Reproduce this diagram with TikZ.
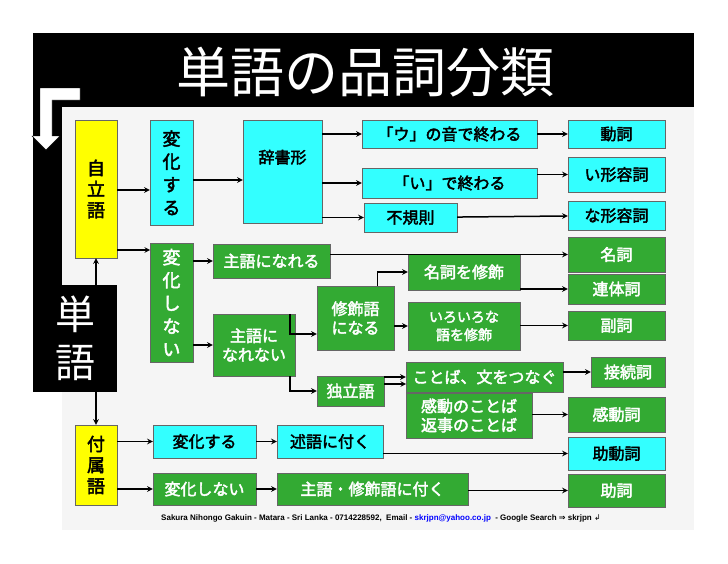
\documentclass[tikz,border=0pt]{standalone}
\usepackage{fontspec}
\setmainfont{Liberation Sans}
\newfontfamily\jp{Noto Sans CJK JP}[FakeBold=2.5]
\newfontfamily\jplight{Noto Sans CJK JP}
\newfontfamily\sym{DejaVu Sans}
\definecolor{cyanbox}{HTML}{33FFFF}
\definecolor{greenbox}{HTML}{33AA33}
\definecolor{yellowbox}{HTML}{FFFF00}
\definecolor{slide}{HTML}{F5F5F5}
\begin{document}
\begin{tikzpicture}[x=1pt, y=-1pt, >=stealth]
    \tikzstyle{cy}=[draw=black!60, fill=cyanbox, inner sep=0pt, align=center, font=\jp\fontsize{16}{19}\selectfont]
    \tikzstyle{gr}=[draw=black!60, fill=greenbox, text=white, inner sep=0pt, align=center, font=\jp\fontsize{16}{19}\selectfont]
    \tikzstyle{ye}=[draw=black!60, fill=yellowbox, inner sep=0pt, align=center, font=\jp\fontsize{18}{21}\selectfont]
    \tikzstyle{vert}=[font=\jp\fontsize{18}{23}\selectfont]
    \tikzstyle{arr}=[->, line width=1.5pt]

    \useasboundingbox (0,0) rectangle (728,563);
    \fill[white] (0,0) rectangle (728,563);
    \fill[slide] (62,107) rectangle (694,530);
    \fill[black] (33,33) rectangle (694,107);
    \fill[black] (33,107) rectangle (62,285);
    \filldraw[fill=white, draw=black] (40,88) -- (80,88) -- (80,100) -- (52,100) -- (52,136) -- (60,136) -- (46,150) -- (32,136) -- (40,136) -- cycle;
    \node[text=white, font=\jplight\fontsize{54}{58}\selectfont] (title) at (365,72) {単語の品詞分類};

    % 自立語
    \node[ye, minimum width=42pt, minimum height=138pt] (jiritsu) at (96,189) {自\\立\\語};
    \node[cy, vert, minimum width=43pt, minimum height=105pt, anchor=north] (henka1) at (171.5,120) {変\\化\\す\\る};
    \node[cy, minimum width=79pt, minimum height=103pt, text depth=30pt] (jisho) at (282.5,171.5) {辞書形};
    \node[cy, minimum width=175pt, minimum height=28pt] (u) at (449.5,134) {「ウ」の音で終わる};
    \node[cy, minimum width=175pt, minimum height=30pt] (i) at (449.5,183) {「い」で終わる};
    \node[cy, minimum width=93pt, minimum height=29pt] (fuki) at (410.5,217.5) {不規則};
    \node[cy, minimum width=97pt, minimum height=28pt] (doushi) at (616.5,134) {動詞};
    \node[cy, minimum width=97pt, minimum height=35pt] (ikei) at (616.5,174.5) {い形容詞};
    \node[cy, minimum width=97pt, minimum height=29pt] (nakei) at (616.5,215.5) {な形容詞};
    \node[gr, minimum width=97pt, minimum height=35pt] (meishi) at (616.5,254.5) {名詞};
    \node[gr, minimum width=97pt, minimum height=30pt] (rentai) at (616.5,289) {連体詞};
    \node[gr, minimum width=97pt, minimum height=29pt] (fuku) at (616.5,325.5) {副詞};
    \node[gr, minimum width=74pt, minimum height=30pt] (setsu) at (628,372) {接続詞};
    \node[gr, minimum width=97pt, minimum height=35pt] (kandou) at (616.5,414.5) {感動詞};
    \node[cy, minimum width=97pt, minimum height=33pt] (jodou) at (616.5,453.5) {助動詞};
    \node[gr, minimum width=97pt, minimum height=33pt] (joshi) at (616.5,490.5) {助詞};

    \node[gr, vert, minimum width=43pt, minimum height=119pt] (henka2) at (171.5,302.5) {変\\化\\し\\な\\い};
    \node[gr, minimum width=117pt, minimum height=34pt] (shugoN) at (271.5,261) {主語になれる};
    \node[gr, minimum width=112pt, minimum height=36pt] (meishuu) at (464,272) {名詞を修飾};
    \node[gr, minimum width=77pt, minimum height=64pt] (shuushoku) at (355.5,318) {修飾語\\になる};
    \node[gr, minimum width=82pt, minimum height=62pt] (shugoNN) at (254,345) {主語に\\なれない};
    \node[gr, minimum width=112pt, minimum height=48pt, font=\jp\fontsize{14}{18}\selectfont] (iroiro) at (464,326) {いろいろな\\語を修飾};
    \node[gr, minimum width=157pt, minimum height=30pt] (kotoba) at (484.5,377) {ことば、文をつなぐ};
    \node[gr, minimum width=67pt, minimum height=30pt] (dokuritsu) at (350.5,391) {独立語};
    \node[gr, minimum width=126pt, minimum height=45pt] (kandoukotoba) at (469,415.5) {感動のことば\\返事のことば};

    \node[fill=black, text=white, minimum width=84pt, minimum height=107pt, align=center, font=\jplight\fontsize{40}{48}\selectfont] (tango) at (75,338.5) {単\\語};

    % 付属語
    \node[ye, minimum width=42pt, minimum height=80pt] (fuzoku) at (96,465) {付\\属\\語};
    \node[cy, minimum width=103pt, minimum height=33pt] (henka3) at (204.5,441.5) {変化する};
    \node[cy, minimum width=106pt, minimum height=33pt] (jutsugo) at (330,441.5) {述語に付く};
    \node[gr, minimum width=103pt, minimum height=32pt] (henka4) at (204.5,489) {変化しない};
    \node[gr, minimum width=191pt, minimum height=32pt] (shugoshuu) at (372.5,489) {主語・修飾語に付く};

    \node[font=\bfseries\fontsize{8}{9}\selectfont] (footer) at (381,518) {Sakura Nihongo Gakuin - Matara - Sri Lanka - 0714228592, \ Email - \textcolor{blue}{skrjpn@yahoo.co.jp} \ - Google Search {\sym ⇒} skrjpn {\sym\mdseries ↲}};

    \draw[arr] (jiritsu.east |- 0,190) -- (henka1.west |- 0,190);
    \draw[arr] (henka1.east |- 0,180) -- (jisho.west |- 0,180);
    \draw[arr] (jisho.east |- u) -- (u);
    \draw[arr] (jisho.east |- i) -- (i);
    \draw[arr] (jisho.east |- fuki) -- (fuki);
    \draw[arr] (u) -- (doushi);
    \draw[arr] (i.east |- ikei) -- (ikei);
    \draw[arr] (fuki) -- (nakei);
    \draw[arr] ([yshift=-61]jiritsu.east) -- ++(33,0);
    \draw[arr] (henka2.east |- shugoN) -- (shugoN);
    \draw[arr] (shugoN.east |- meishi) -- (meishi);
    \draw[arr] (henka2.east |- shugoNN) -- (shugoNN);
    \draw[arr] ([xshift=-5]shugoNN.north east) |- ([yshift=-16]shuushoku.west);
    \draw[arr] ([xshift=-5]shugoNN.south east) |- (dokuritsu.west);
    \draw[arr] ([xshift=22]shuushoku.north) |- (meishuu.west);
    \draw[arr] (shuushoku.east |- iroiro) -- (iroiro);
    \draw[arr] (meishuu.east |- rentai) -- (rentai);
    \draw[arr] (iroiro.east |- fuku) -- (fuku);
    \draw[arr] (dokuritsu.east |- kotoba) -- (kotoba);
    \draw[arr] ([yshift=7]dokuritsu.east) -- ++(22,0);
    \draw[arr] (kotoba.east |- setsu) -- (setsu);
    \draw[arr] (kandoukotoba.east |- kandou) -- (kandou);
    \draw[arr] (tango.north -| jiritsu) -- (jiritsu.south);
    \draw[arr] (tango.south -| fuzoku) -- (fuzoku.north);
    \draw[arr] (fuzoku.east |- henka3) -- (henka3);
    \draw[arr] (henka3) -- (jutsugo);
    \draw[arr] (jutsugo.east |- jodou) -- (jodou);
    \draw[arr] (fuzoku.east |- henka4) -- (henka4);
    \draw[arr] (henka4) -- (shugoshuu);
    \draw[arr] (shugoshuu.east |- joshi) -- (joshi);
\end{tikzpicture}
\end{document}
